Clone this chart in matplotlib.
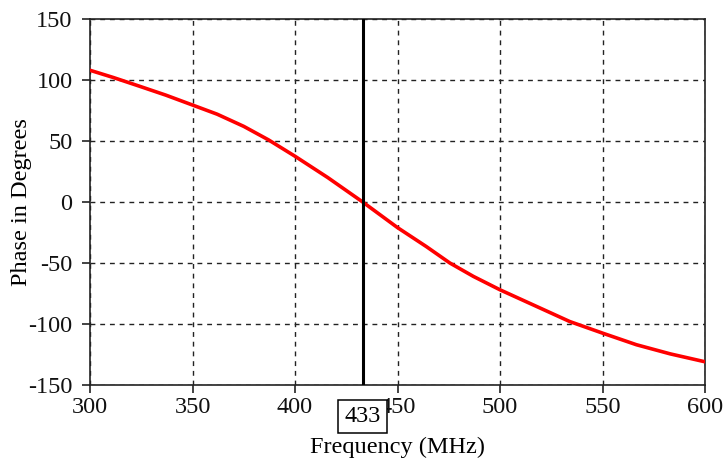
import matplotlib.pyplot as plt

# phase response
freq = [300, 311.5, 324, 337, 350, 362, 375, 387, 400, 416, 433,
        450, 464, 475.5, 487, 500, 517, 534, 550, 566.5, 583, 600]
phase = [108, 102, 95, 87.6, 79.5, 72, 62, 51, 37.5, 20, 0,
         -21, -36.5, -50, -61, -72, -85, -98, -107.5, -117, -124.5, -131]
f_center = 433

xticks = [300, 350, 400, 450, 500, 550, 600]
yticks = [-150, -100, -50, 0, 50, 100, 150]

plt.rcParams['font.family'] = ['Liberation Serif', 'DejaVu Serif']
plt.rcParams['axes.unicode_minus'] = False
FS = 17.5

fig = plt.figure(figsize=(7.28, 4.71), dpi=100)
ax = fig.add_axes([0.1236, 0.1826, 0.845, 0.777])

ax.plot(freq, phase, color='#ff0000', lw=2.6, zorder=3, solid_joinstyle='round')
ax.axvline(f_center, color='black', lw=2.2, zorder=4)

ax.set_xlim(300, 600)
ax.set_ylim(-150, 150)
ax.set_xticks(xticks)
ax.set_yticks(yticks)
ax.grid(True, color='#222222', linestyle=(0, (3.5, 3.5)), lw=1.0)

ax.tick_params(direction='out', length=5.5, width=1.1, labelsize=FS, colors='#111111')
ax.tick_params(axis='y', pad=7)
ax.tick_params(axis='x', pad=3)
for s in ax.spines.values():
    s.set_linewidth(1.2)
    s.set_color('#222222')

ax.set_xlabel('Frequency (MHz)', fontsize=FS)
ax.set_ylabel('Phase in Degrees', fontsize=FS)
ax.xaxis.set_label_coords(0.5, -0.142)
ax.yaxis.set_label_coords(-0.094, 0.5)

# boxed marker label for the centre frequency, over the tick labels
ax.annotate(str(f_center), xy=(f_center, 0), xycoords=('data', 'axes fraction'),
            xytext=(0, -22.5), textcoords='offset points', ha='center', va='center',
            fontsize=FS, zorder=10, annotation_clip=False,
            bbox=dict(boxstyle='square,pad=0.25', fc='white', ec='black', lw=1.1))

fig.savefig('out.png', dpi=100)
